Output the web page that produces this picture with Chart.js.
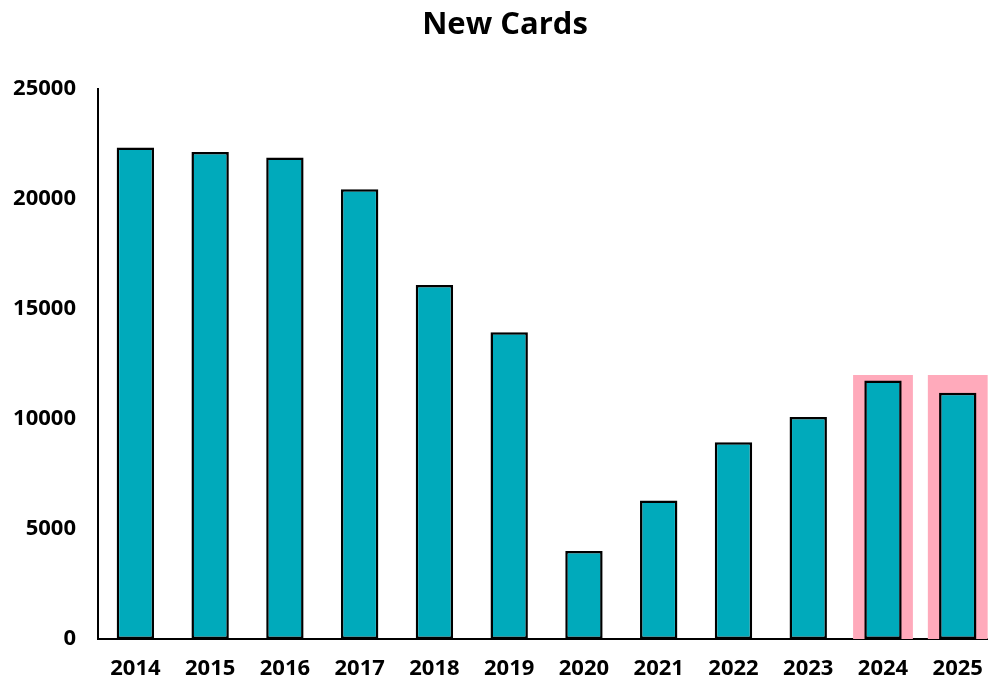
<!DOCTYPE html>
<html>
<head>
<meta charset="utf-8">
<script src="https://cdn.jsdelivr.net/npm/chart.js@4"></script>
<style>
  html, body { margin: 0; padding: 0; background: #fff; overflow: hidden; }
  #wrap { width: 1000px; height: 683px; }
</style>
</head>
<body>
<div id="wrap"><canvas id="myChart"></canvas></div>
<script>
var years = ["2014", "2015", "2016", "2017", "2018", "2019", "2020", "2021", "2022", "2023", "2024", "2025"];
var newCards = [22350, 22150, 21900, 20450, 16100, 13950, 4000, 6300, 8950, 10100, 11750, 11200];
var highlight = [null, null, null, null, null, null, null, null, null, null, 12000, 12000];
var yTicks = [0, 5000, 10000, 15000, 20000, 25000];

var labelFont = {family: "'Open Sans', sans-serif", size: 22, weight: "bold"};

new Chart("myChart", {
  type: "bar",
  data: {
    labels: years,
    datasets: [{
      data: newCards,
      backgroundColor: "#00aabb",
      borderColor: "#000",
      borderWidth: 2.5,
      borderSkipped: false,
      barPercentage: 0.5,
      categoryPercentage: 1,
      grouped: false,
      order: 1
    }, {
      data: highlight,
      backgroundColor: "#ffaabb",
      borderWidth: 0,
      barPercentage: 0.8,
      categoryPercentage: 1,
      grouped: false,
      order: 2
    }]
  },
  options: {
    responsive: true,
    maintainAspectRatio: false,
    animation: false,
    layout: {padding: {left: 12, right: 2, top: 7, bottom: 0}},
    plugins: {
      legend: {display: false},
      tooltip: {enabled: false},
      title: {
        display: true,
        text: "New Cards",
        color: "#000",
        font: {family: "'Open Sans', sans-serif", size: 31, weight: "bold"},
        padding: {top: 0, bottom: 45}
      }
    },
    scales: {
      x: {
        grid: {display: false, drawTicks: false},
        border: {color: "#000", width: 2},
        ticks: {color: "#000", font: labelFont, padding: 17, maxRotation: 0},
        afterFit: function (s) { s.height = 44; }
      },
      y: {
        min: 0,
        max: 25000,
        afterBuildTicks: function (axis) {
          axis.ticks = yTicks.map(function (v) { return {value: v}; });
        },
        grid: {display: false, drawTicks: false},
        border: {color: "#000", width: 2},
        ticks: {
          color: "#000", font: labelFont, padding: 22,
          callback: function (v) { return String(v); }
        },
        afterFit: function (s) { s.width = 86; }
      }
    }
  }
});
</script>
</body>
</html>
